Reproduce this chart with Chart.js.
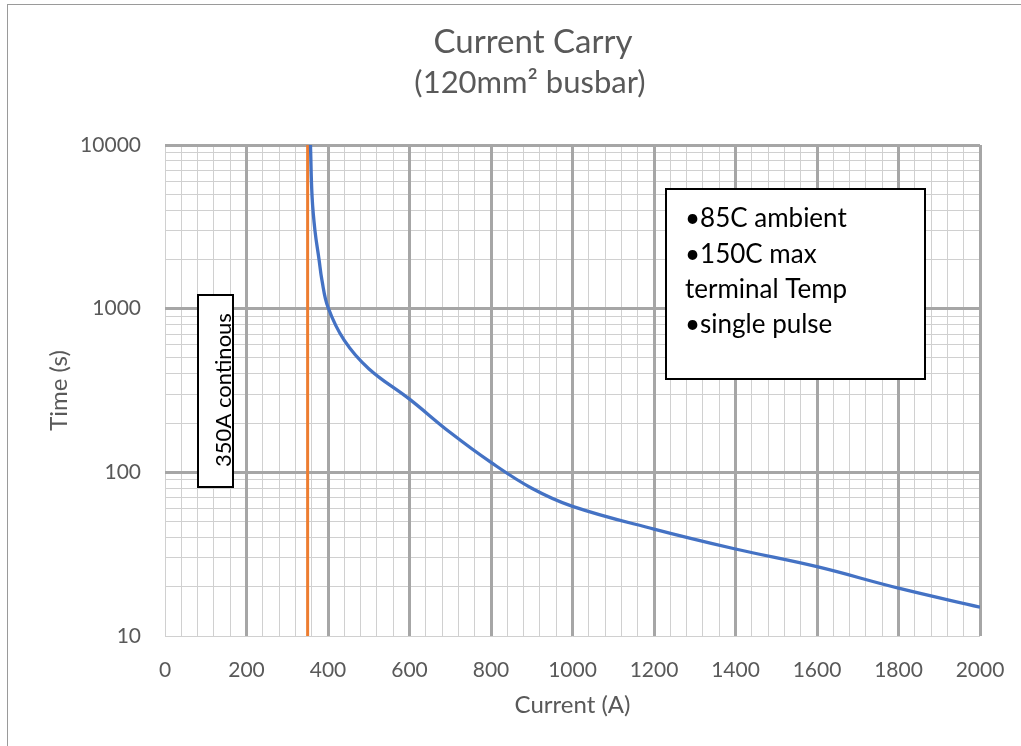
<!DOCTYPE html>
<html>
<head>
<meta charset="utf-8">
<script src="https://cdn.jsdelivr.net/npm/chart.js@4"></script>
<style>
  html, body { margin: 0; padding: 0; background: #fff; }
  #wrap { position: relative; width: 1021px; height: 746px; overflow: hidden; }
  #chart { display: block; }
  #frame { position: absolute; left: 7px; top: 4px; right: -2px; bottom: -2px;
           border-left: 1px solid #9a9a9a; border-top: 1px solid #9a9a9a; pointer-events: none; }
</style>
</head>
<body>
<div id="wrap">
  <canvas id="chart" width="1021" height="746"></canvas>
  <div id="frame"></div>
</div>
<script>
// values
const current = [357, 361, 368, 378, 385, 400, 440, 500, 600, 700, 800, 900, 1000, 1200, 1400, 1600, 1800, 2000];
const time    = [10000, 4800, 3000, 2000, 1500, 1020, 640, 430, 280, 175, 115, 80, 62, 45, 34, 26.5, 19.6, 15];

const limitCurrent = [350, 350];
const limitTime = [10, 10000];

const xTickLabels = [0, 200, 400, 600, 800, 1000, 1200, 1400, 1600, 1800, 2000];
const yTickLabels = [10, 100, 1000, 10000];

const titleText = 'Current Carry';
const subtitleText = '(120mm\u00B2 busbar)';
const notes = ['\u202285C ambient', '\u2022150C max', 'terminal Temp', '\u2022single pulse'];
const limitNote = '350A continous';

const FONT = 'Lato, "Noto Sans", sans-serif';
const TEXT = '#595959';
const MAJOR = '#a6a6a6';
const MINOR = '#d0d0d0';

// minor grid: 5 steps between x labels, 1..9 inside each decade
const xMinor = [];
for (let i = 0; i < xTickLabels.length - 1; i++) {
  const a = xTickLabels[i], step = (xTickLabels[i + 1] - a) / 5;
  for (let k = 0; k < 5; k++) xMinor.push(a + k * step);
}
xMinor.push(xTickLabels[xTickLabels.length - 1]);

const yMinor = [];
for (let i = 0; i < yTickLabels.length - 1; i++) {
  for (let k = 1; k < 10; k++) yMinor.push(yTickLabels[i] * k);
}
yMinor.push(yTickLabels[yTickLabels.length - 1]);

const textBoxes = {
  id: 'textBoxes',
  afterDraw(chart) {
    const ctx = chart.ctx;
    ctx.save();

    ctx.fillStyle = TEXT;
    ctx.textAlign = 'center';
    ctx.textBaseline = 'alphabetic';
    ctx.font = '33px ' + FONT;
    ctx.fillText(titleText, 533, 53);
    ctx.font = '31px ' + FONT;
    ctx.fillText(subtitleText, 530, 93);

    // note box, top right
    ctx.fillStyle = '#fff';
    ctx.strokeStyle = '#000';
    ctx.lineWidth = 2;
    ctx.fillRect(666, 189, 259, 190);
    ctx.strokeRect(666, 189, 259, 190);
    ctx.fillStyle = '#000';
    ctx.textAlign = 'left';
    ctx.font = '26px ' + FONT;
    const base = [227, 263, 298, 333];
    notes.forEach((t, i) => ctx.fillText(t, 685, base[i]));

    // rotated box for the continuous limit
    ctx.fillStyle = '#fff';
    ctx.fillRect(198, 295, 35, 192);
    ctx.strokeRect(198, 295, 35, 192);
    ctx.fillStyle = '#000';
    ctx.translate(231, 390);
    ctx.rotate(-Math.PI / 2);
    ctx.textAlign = 'center';
    ctx.font = '22px ' + FONT;
    ctx.fillText(limitNote, 0, 0);

    ctx.restore();
  }
};

new Chart(document.getElementById('chart'), {
  type: 'scatter',
  data: {
    datasets: [
      {
        label: 'Time',
        data: current.map((c, i) => ({ x: c, y: time[i] })),
        showLine: true,
        borderColor: '#4472C4',
        borderWidth: 3.3,
        pointRadius: 0,
        tension: 0.4
      },
      {
        label: '350A',
        data: limitCurrent.map((c, i) => ({ x: c, y: limitTime[i] })),
        showLine: true,
        borderColor: '#ED7D31',
        borderWidth: 3,
        pointRadius: 0
      }
    ]
  },
  options: {
    responsive: false,
    animation: false,
    devicePixelRatio: 1,
    layout: { padding: { top: 145, right: 41, left: 0, bottom: 0 } },
    plugins: {
      legend: { display: false },
      tooltip: { enabled: false }
    },
    scales: {
      x: {
        type: 'linear',
        min: 0,
        max: 2000,
        afterBuildTicks: axis => { axis.ticks = xMinor.map(v => ({ value: v })); },
        afterFit: axis => { axis.height = 110; axis.paddingLeft = 0; axis.paddingRight = 0; },
        grid: { color: MINOR, lineWidth: 1, drawTicks: false, z: -2 },
        border: { display: false },
        ticks: {
          autoSkip: false,
          maxRotation: 0,
          padding: 22,
          color: TEXT,
          font: { family: FONT, size: 21 },
          callback: v => xTickLabels.includes(v) ? String(v) : ''
        },
        title: {
          display: true,
          text: 'Current (A)',
          color: TEXT,
          font: { family: FONT, size: 24 },
          padding: { top: 0, bottom: 26 }
        }
      },
      x2: {
        type: 'linear',
        position: 'top',
        min: 0,
        max: 2000,
        afterBuildTicks: axis => { axis.ticks = xTickLabels.slice(1).map(v => ({ value: v })); },
        afterFit: axis => { axis.height = 0; axis.paddingLeft = 0; axis.paddingRight = 0; },
        grid: { color: MAJOR, lineWidth: 3, drawTicks: false, z: -1 },
        border: { display: false },
        ticks: { display: false }
      },
      y: {
        type: 'logarithmic',
        min: 10,
        max: 10000,
        afterBuildTicks: axis => { axis.ticks = yMinor.map(v => ({ value: v })); },
        afterFit: axis => { axis.width = 165; },
        grid: { color: MINOR, lineWidth: 1, drawTicks: false, z: -2 },
        border: { display: false },
        ticks: {
          autoSkip: false,
          padding: 24,
          color: TEXT,
          font: { family: FONT, size: 21 },
          callback: v => yTickLabels.includes(v) ? String(v) : ''
        },
        title: {
          display: true,
          text: 'Time (s)',
          color: TEXT,
          font: { family: FONT, size: 24 },
          padding: { top: 45, bottom: 0 }
        }
      },
      y2: {
        type: 'logarithmic',
        position: 'right',
        min: 10,
        max: 10000,
        afterBuildTicks: axis => { axis.ticks = yTickLabels.slice(1).map(v => ({ value: v })); },
        afterFit: axis => { axis.width = 0; },
        grid: { color: MAJOR, lineWidth: 3, drawTicks: false, z: -1 },
        border: { display: false },
        ticks: { display: false }
      }
    }
  },
  plugins: [textBoxes]
});
</script>
</body>
</html>
